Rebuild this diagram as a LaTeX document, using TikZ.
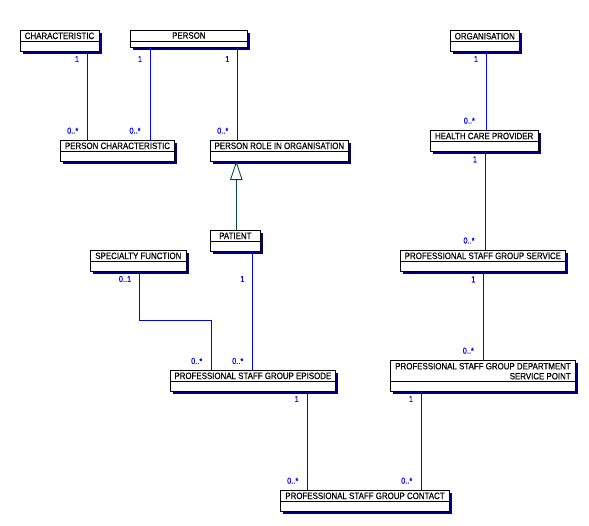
\documentclass[tikz,border=0pt]{standalone}
\usepackage{fontspec}
\setmainfont{Liberation Sans}
\newfontfamily\umlfont[FakeStretch=0.86,FakeBold=0.4]{Liberation Sans}
\usetikzlibrary{arrows.meta}
\definecolor{umlblue}{RGB}{0,0,255}
\definecolor{umlnavy}{RGB}{0,0,128}
\definecolor{umlteal}{RGB}{0,72,72}
\tikzset{
 clsbox/.style={draw=black, fill=white, line width=0.9pt, inner sep=0pt, outer sep=0pt},
 clsline/.style={black, line width=0.9pt},
 clstext/.style={font=\umlfont\fontsize{9.2}{10}\selectfont, inner sep=0pt, align=right},
 mult/.style={text=umlblue, font=\umlfont\fontsize{8.6}{9}\selectfont, inner sep=0pt},
 assoc/.style={draw=umlblue, line width=0.8pt},
 gen/.style={draw=umlteal, line width=0.9pt, -{Triangle[open, width=12.5pt, length=19pt]}},
}
\newcommand\umlclass[7]{%
 \fill[umlnavy] ({#2+2.5},{#3+2.5}) rectangle ({#4+2.5},{#5+2.5});
 \node[clsbox, anchor=north west, minimum width={(#4-#2)*1pt}, minimum height={(#5-#3)*1pt}] (#1) at (#2,#3) {};
 \draw[clsline] (#2,#6) -- (#4,#6);
 \node[clstext] (#1-t) at ({(#2+#4)/2},{(#3+#6)/2}) {#7};
}
\begin{document}
\begin{tikzpicture}[x=1pt,y=-1pt]
\useasboundingbox (0,0) rectangle (589,525);
\umlclass{char}{20}{30}{99}{51.7}{41.7}{CHARACTERISTIC}
\umlclass{person}{130}{30}{247.7}{47.3}{41}{PERSON}
\umlclass{pchar}{60.7}{140.7}{174.3}{161}{151}{PERSON CHARACTERISTIC}
\umlclass{prio}{210.7}{140.7}{348}{161}{151}{PERSON ROLE IN ORGANISATION}
\umlclass{org}{450.3}{30.7}{519.3}{51.7}{41.7}{ORGANISATION}
\umlclass{hcp}{430}{130.7}{538.3}{151}{141.3}{HEALTH CARE PROVIDER}
\umlclass{pat}{210}{230}{260.7}{251.7}{241.7}{PATIENT}
\umlclass{sf}{90}{250}{186.7}{271.7}{261.7}{SPECIALTY FUNCTION}
\umlclass{psgs}{400.7}{250}{565}{271.7}{261.7}{PROFESSIONAL STAFF GROUP SERVICE}
\umlclass{psge}{170.7}{370.7}{335}{391}{381}{PROFESSIONAL STAFF GROUP EPISODE}
\umlclass{psgdsp}{390.7}{360.7}{575.3}{391}{381.7}{PROFESSIONAL STAFF GROUP DEPARTMENT\\SERVICE POINT}
\umlclass{psgc}{280.7}{490.7}{449.3}{511}{501}{PROFESSIONAL STAFF GROUP CONTACT}

% associations
\draw[assoc] (char.south -| 87.3,0) -- (pchar.north -| 87.3,0);
\draw[assoc] (person.south -| 150.3,0) -- (pchar.north -| 150.3,0);
\draw[assoc] (person.south -| 237.3,0) -- (prio.north -| 237.3,0);
\draw[assoc] (org.south -| 486.3,0) -- (hcp.north -| 486.3,0);
\draw[assoc] (hcp.south -| 485.7,0) -- (psgs.north -| 485.7,0);
\draw[assoc] (psgs.south -| 483.7,0) -- (psgdsp.north -| 483.7,0);
\draw[assoc] (sf.south -| 139.3,0) -- (139.3,320.3) -| (psge.north -| 211.3,0);
\draw[assoc] (pat.south -| 252.5,0) -- (psge.north -| 252.5,0);
\draw[assoc] (psge.south -| 307.3,0) -- (psgc.north -| 307.3,0);
\draw[assoc] (psgdsp.south -| 421.5,0) -- (psgc.north -| 421.5,0);
% generalization
\draw[gen] (pat.north -| 236.3,0) -- (prio.south -| 236.3,0);

% multiplicities
\node[mult] (m1) at (77,59) {1};
\node[mult] (m2) at (72.7,130.7) {0..*};
\node[mult] (m3) at (140,59) {1};
\node[mult] (m4) at (135,130.7) {0..*};
\node[mult] (m5) at (227.3,59) {1};
\node[mult] (m6) at (222.7,130.7) {0..*};
\node[mult] (m7) at (476,59) {1};
\node[mult] (m8) at (469.3,120.7) {0..*};
\node[mult] (m9) at (475,159.3) {1};
\node[mult] (m10) at (469,240.5) {0..*};
\node[mult] (m11) at (125,279) {0..1};
\node[mult] (m12) at (242.3,279) {1};
\node[mult] (m13) at (196.7,361) {0..*};
\node[mult] (m14) at (237.7,361) {0..*};
\node[mult] (m15) at (473.3,279.3) {1};
\node[mult] (m16) at (468.3,350.7) {0..*};
\node[mult] (m17) at (296.7,399) {1};
\node[mult] (m18) at (411,399) {1};
\node[mult] (m19) at (292.7,480.7) {0..*};
\node[mult] (m20) at (406.7,480.7) {0..*};
\end{tikzpicture}
\end{document}
